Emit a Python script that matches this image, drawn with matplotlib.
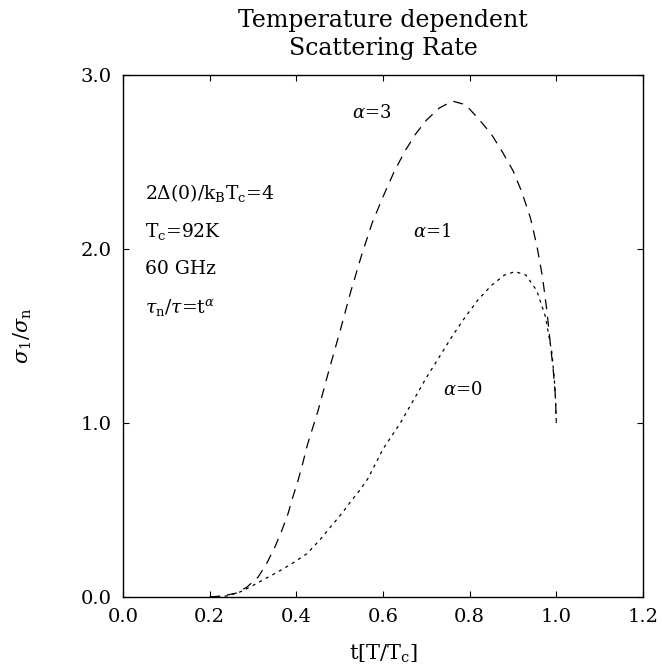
import matplotlib
matplotlib.use("Agg")
import matplotlib.pyplot as plt

plt.rcParams['font.family'] = ['DejaVu Serif']
plt.rcParams['mathtext.fontset'] = 'dejavuserif'

# alpha = 3 curve (dashed)
alpha3_t = [0.20, 0.23, 0.263, 0.286, 0.312, 0.332, 0.351, 0.367, 0.381, 0.392,
            0.404, 0.415, 0.425, 0.45, 0.475, 0.50, 0.525, 0.55, 0.575, 0.60,
            0.625, 0.65, 0.675, 0.70, 0.73, 0.76, 0.79, 0.82, 0.85, 0.875,
            0.90, 0.92, 0.94, 0.955, 0.968, 0.978, 0.986, 0.993, 0.998, 1.0]
alpha3_s = [0.0, 0.006, 0.023, 0.057, 0.115, 0.195, 0.29, 0.385, 0.48, 0.575,
            0.67, 0.77, 0.87, 1.07, 1.30, 1.52, 1.75, 1.96, 2.15, 2.30,
            2.44, 2.56, 2.66, 2.74, 2.81, 2.85, 2.83, 2.75, 2.66, 2.56,
            2.45, 2.33, 2.18, 2.02, 1.84, 1.65, 1.46, 1.30, 1.15, 1.0]

# alpha = 0 curve (dotted)
alpha0_t = [0.20, 0.24, 0.27, 0.293, 0.323, 0.358, 0.392, 0.425, 0.455, 0.478,
            0.505, 0.528, 0.547, 0.565, 0.60, 0.64, 0.67, 0.70, 0.73, 0.76,
            0.79, 0.82, 0.85, 0.88, 0.905, 0.93, 0.955, 0.975, 0.99, 0.997, 1.0]
alpha0_s = [0.0, 0.006, 0.029, 0.057, 0.098, 0.145, 0.195, 0.25, 0.33, 0.40,
            0.48, 0.557, 0.615, 0.68, 0.85, 1.0, 1.13, 1.26, 1.38, 1.50,
            1.61, 1.71, 1.79, 1.85, 1.87, 1.85, 1.76, 1.61, 1.40, 1.20, 1.0]

xticks = [0.0, 0.2, 0.4, 0.6, 0.8, 1.0, 1.2]
yticks = [0.0, 1.0, 2.0, 3.0]

info_lines = [r'2$\Delta$(0)/k$_{\rm B}$T$_{\rm c}$=4',
              r'T$_{\rm c}$=92K',
              '60 GHz',
              r'$\tau_{\rm n}/\tau$=t$^{\alpha}$']

fig = plt.figure(figsize=(6.62, 6.72), dpi=100)
ax = fig.add_axes([0.1858, 0.1116, 0.7855, 0.7768])

ax.plot(alpha3_t, alpha3_s, color='black', lw=0.9, linestyle=(0, (8, 6)))
ax.plot(alpha0_t, alpha0_s, color='black', lw=0.9, linestyle=(0, (2.5, 3.5)))

ax.set_xlim(0.0, 1.2)
ax.set_ylim(0.0, 3.0)
ax.set_xticks(xticks)
ax.set_yticks(yticks)
ax.set_xticklabels(['%.1f' % v for v in xticks])
ax.set_yticklabels(['%.1f' % v for v in yticks])
ax.tick_params(direction='in', length=4, width=0.8, top=True, right=True,
               labelsize=14, pad=8)
for sp in ax.spines.values():
    sp.set_linewidth(1.0)

ax.set_xlabel(r't[T/T$_{\rm c}$]', fontsize=15, labelpad=12)
ax.set_ylabel(r'$\sigma_1/\sigma_{\rm n}$', fontsize=15, labelpad=34)

fig.text(0.5785, 1 - 20 / 672, 'Temperature dependent', ha='center', va='center', fontsize=17)
fig.text(0.5785, 1 - 48 / 672, 'Scattering Rate', ha='center', va='center', fontsize=17)

for i, line in enumerate(info_lines):
    ax.text(0.042, 0.774 - i * 0.073, line, transform=ax.transAxes,
            ha='left', va='center', fontsize=13.5)

ax.text(0.575, 2.78, r'$\alpha$=3', ha='center', va='center', fontsize=13)
ax.text(0.713, 2.10, r'$\alpha$=1', ha='center', va='center', fontsize=13)
ax.text(0.783, 1.19, r'$\alpha$=0', ha='center', va='center', fontsize=13)

fig.savefig('out.png', dpi=100)
